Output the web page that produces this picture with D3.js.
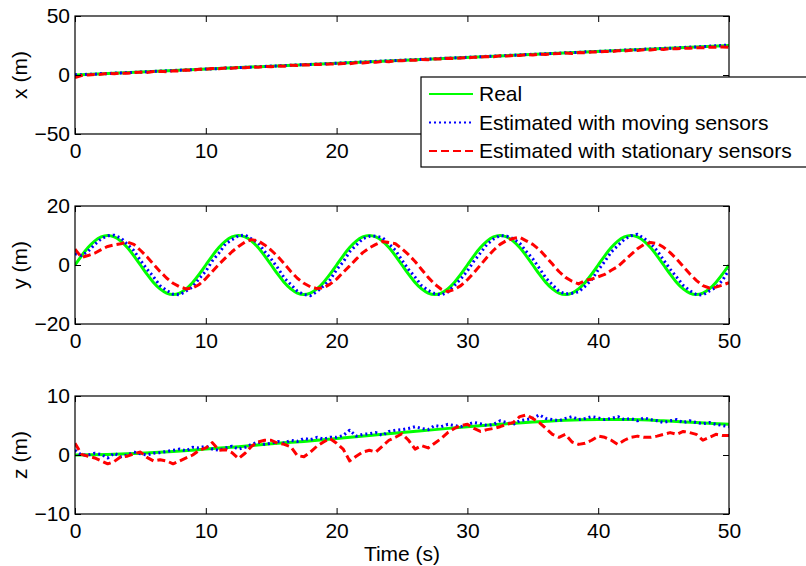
<!DOCTYPE html>
<html>
<head>
<meta charset="utf-8">
<script src="https://cdn.jsdelivr.net/npm/d3@7/dist/d3.min.js"></script>
<style>
    body { margin: 0; background: #fff; }
    svg { font-family: 'Liberation Sans', Arial, Helvetica, sans-serif; }
</style>
</head>
<body>
<svg id="chart" width="806" height="566"></svg>
<script>
// estimates are sampled every half second, t = 0 .. 50
const timeStep = 0.5;
const timeTicks = [0, 10, 20, 30, 40, 50];

const seriesNames = ['Real', 'Estimated with moving sensors', 'Estimated with stationary sensors'];

// x (m)
const realXTime = [0, 50];
const realX = [0, 25];
const movingX = [
    0.3, 0.2, 0.7, 0.6, 1.2, 1.1, 1.6, 1.8, 2.1, 2.2,
    2.6, 2.7, 3.1, 3.2, 3.6, 3.7, 4.1, 4.3, 4.4, 4.9,
    5.0, 5.3, 5.4, 5.9, 6.0, 6.2, 6.6, 6.7, 7.1, 7.2,
    7.6, 7.7, 8.1, 8.2, 8.6, 8.8, 9.0, 9.3, 9.4, 9.8,
    10.0, 10.3, 10.4, 10.9, 11.0, 11.2, 11.6, 11.8, 12.1, 12.3,
    12.5, 12.8, 13.0, 13.3, 13.6, 13.7, 14.1, 14.2, 14.6, 14.7,
    15.0, 15.3, 15.4, 15.9, 16.0, 16.2, 16.6, 16.8, 17.0, 17.3,
    17.6, 17.7, 18.1, 18.3, 18.4, 18.9, 19.0, 19.2, 19.6, 19.8,
    20.1, 20.2, 20.6, 20.7, 21.1, 21.3, 21.4, 21.9, 22.0, 22.3,
    22.6, 22.7, 23.1, 23.3, 23.6, 23.8, 24.1, 24.4, 24.7, 25.0,
    25.5
];
const stationaryX = [
    -2.2, -0.5, 0.0, 0.4, 0.6, 1.3, 1.0, 1.6, 1.4, 2.0,
    2.4, 2.2, 2.9, 3.1, 2.8, 3.5, 3.4, 4.2, 4.0, 4.8,
    4.9, 5.6, 5.3, 5.9, 5.7, 6.3, 6.2, 6.8, 6.6, 7.2,
    7.0, 7.6, 7.5, 8.3, 8.0, 8.6, 8.4, 9.2, 8.9, 9.4,
    9.3, 9.8, 9.6, 10.4, 10.2, 10.9, 10.7, 11.5, 11.3, 12.0,
    12.1, 12.6, 12.4, 13.2, 13.0, 13.6, 13.5, 14.2, 13.9, 14.5,
    14.6, 15.0, 15.2, 15.6, 15.5, 16.3, 16.0, 16.5, 16.6, 17.2,
    17.0, 17.7, 17.4, 18.1, 18.2, 18.6, 18.3, 19.0, 18.8, 19.5,
    19.4, 20.0, 19.8, 20.5, 20.4, 21.0, 20.8, 21.4, 21.2, 21.9,
    21.7, 22.4, 22.2, 22.8, 22.6, 23.2, 23.0, 23.6, 23.5, 23.8,
    23.4
];

// y (m)
const realY = [
    0, 3.1, 5.9, 8.1, 9.5, 10, 9.5, 8.1, 5.9, 3.1,
    0, -3.1, -5.9, -8.1, -9.5, -10, -9.5, -8.1, -5.9, -3.1,
    0, 3.1, 5.9, 8.1, 9.5, 10, 9.5, 8.1, 5.9, 3.1,
    0, -3.1, -5.9, -8.1, -9.5, -10, -9.5, -8.1, -5.9, -3.1,
    0, 3.1, 5.9, 8.1, 9.5, 10, 9.5, 8.1, 5.9, 3.1,
    0, -3.1, -5.9, -8.1, -9.5, -10, -9.5, -8.1, -5.9, -3.1,
    0, 3.1, 5.9, 8.1, 9.5, 10, 9.5, 8.1, 5.9, 3.1,
    0, -3.1, -5.9, -8.1, -9.5, -10, -9.5, -8.1, -5.9, -3.1,
    0, 3.1, 5.9, 8.1, 9.5, 10, 9.5, 8.1, 5.9, 3.1,
    0, -3.1, -5.9, -8.1, -9.5, -10, -9.5, -8.1, -5.9, -3.1,
    0
];
const movingY = [
    3.8, 3.2, 4.6, 6.9, 8.9, 9.9, 10.1, 9.2, 7.0, 4.9,
    1.6, -1.4, -4.0, -7.0, -8.6, -9.9, -10.1, -8.8, -7.4, -4.6,
    -2.1, 1.4, 4.0, 7.1, 8.6, 9.9, 10.2, 8.8, 7.5, 4.6,
    2.0, -1.0, -4.4, -6.6, -8.9, -10.0, -10.4, -9.0, -7.1, -5.0,
    -1.6, 1.0, 4.5, 6.7, 8.9, 9.7, 9.8, 9.3, 7.1, 5.0,
    1.6, -1.5, -4.1, -7.0, -8.6, -9.7, -10.2, -9.2, -7.0, -4.7,
    -2.0, 1.3, 4.1, 7.0, 8.8, 10.0, 9.8, 8.9, 7.4, 4.6,
    2.1, -1.1, -4.4, -6.7, -8.9, -9.8, -9.6, -9.1, -7.2, -5.0,
    -1.7, 1.2, 4.4, 6.6, 8.7, 9.9, 10.4, 9.1, 7.3, 4.9,
    1.7, -1.4, -4.1, -6.9, -8.7, -10.0, -10.2, -8.8, -7.6, -5.2,
    -1.6
];
const stationaryY = [
    5.4, 2.6, 3.2, 4.0, 5.2, 6.3, 6.8, 7.2, 7.8, 7.0,
    5.0, 2.8, 0.3, -2.2, -4.4, -6.2, -7.4, -8.1, -7.8, -6.6,
    -4.6, -2.2, 0.2, 2.4, 4.5, 6.3, 7.8, 8.6, 8.2, 6.8,
    5.0, 2.9, 0.4, -2.2, -4.5, -6.2, -7.4, -8.0, -7.7, -6.5,
    -4.8, -2.5, -0.3, 2.0, 4.2, 5.8, 7.0, 8.0, 7.6, 7.2,
    5.5, 3.5, 1.2, -1.5, -4.2, -6.5, -8.2, -9.0, -8.3, -7.0,
    -5.0, -2.6, 0.0, 2.6, 5.0, 7.0, 8.3, 9.0, 9.4, 8.2,
    7.0, 5.2, 2.8, 0.3, -2.2, -4.2, -5.5, -6.4, -5.2, -4.8,
    -4.0, -3.2, -1.8, -0.5, 1.5, 3.5, 5.5, 7.0, 7.6, 7.3,
    6.0, 4.2, 2.0, -0.5, -3.0, -5.2, -7.0, -7.8, -7.5, -6.8,
    -6.0
];

// z (m)
const realZTime = [0, 2.5, 5, 7.5, 10, 12.5, 15, 17.5, 20, 22.5, 25, 27.5, 30, 32.5, 35, 37.5, 40, 42.5, 45, 47.5, 50];
const realZ = [0, 0.1, 0.3, 0.6, 1.0, 1.4, 1.9, 2.3, 2.8, 3.3, 3.8, 4.3, 4.8, 5.2, 5.6, 5.9, 6.0, 6.0, 5.8, 5.5, 5.2];
const movingZ = [
    0.8, 0.0, 0.0, 0.3, 0.1, -0.5, 0.3, -0.3, 0.0, 0.5,
    0.2, 0.0, 0.3, 0.4, 0.6, 0.8, 1.0, 0.7, 1.3, 1.2,
    1.5, 1.0, 0.8, 1.2, 1.5, 1.0, 1.3, 1.8, 2.2, 1.8,
    2.0, 2.3, 2.0, 2.5, 2.3, 2.8, 2.6, 3.0, 2.7, 3.0,
    3.0, 3.3, 4.2, 3.2, 3.5, 3.6, 3.8, 3.3, 4.0, 4.2,
    4.3, 4.5, 4.8, 4.5, 4.3, 5.0, 4.8, 5.2, 5.0, 4.8,
    5.2, 5.5, 5.3, 5.0, 5.2, 5.8, 5.5, 5.2, 5.8, 6.0,
    6.2, 6.8, 6.2, 6.0, 5.8, 6.2, 6.5, 6.0, 6.2, 6.5,
    6.3, 6.0, 6.2, 6.5, 6.0, 6.2, 5.8, 6.3, 6.0, 5.8,
    5.5, 5.8, 6.0, 5.5, 5.8, 5.5, 5.3, 5.5, 5.2, 5.0,
    4.8
];
const stationaryZ = [
    2.0, 0.1, -0.2, -0.5, -1.0, -1.5, -1.1, -0.3, -0.2, 0.2,
    0.5, -0.4, -1.0, -0.8, -1.0, -1.5, -1.0, -0.5, 0.0, 0.8,
    1.2, 2.1, 0.8, 0.9, 0.4, -0.6, 0.3, 1.5, 2.2, 2.5,
    2.5, 2.0, 1.8, 1.4, -0.1, -0.3, 0.5, 1.5, 2.2, 2.8,
    2.0, 1.0, -1.0, -0.2, 0.5, 0.8, 0.5, 1.5, 2.5, 3.0,
    3.6, 2.5, 1.0, 1.6, 1.2, 2.0, 2.8, 3.8, 4.5, 5.0,
    5.2, 4.5, 4.0, 4.3, 4.5, 4.8, 5.2, 5.5, 6.5, 6.8,
    6.2, 5.5, 4.5, 3.5, 3.0, 3.5, 2.2, 1.8, 2.0, 2.5,
    3.2, 3.0, 2.5, 1.8, 2.5, 3.0, 3.2, 3.0, 3.0, 3.2,
    3.5, 3.8, 3.5, 4.0, 3.8, 3.5, 2.5, 3.0, 3.5, 3.3,
    3.3
];

const panelLabels = ['x (m)', 'y (m)', 'z (m)'];
const panelTicks = [[-50, 0, 50], [-20, 0, 20], [-10, 0, 10]];

const lineStyles = [
    { color: '#00ff00', width: 3, dash: null },
    { color: '#0000ff', width: 3, dash: '2,3' },
    { color: '#ff0000', width: 3, dash: '8,4' },
];

const plotLeft = 75;
const plotRight = 729;
const plotHeight = 118;
const plotTops = [16, 206, 396];
const tickLen = 6;
const fontSize = 21;

const legendBox = { x: 421, y: 77, width: 420, height: 90 };

const svg = d3.select('#chart');

const xScale = d3.scaleLinear()
    .domain([0, 50])
    .range([plotLeft, plotRight]);

function sampled(values) {
    return values.map((v, i) => ({ t: i * timeStep, v }));
}

function paired(times, values) {
    return times.map((t, i) => ({ t, v: values[i] }));
}

const panelSeries = [
    [paired(realXTime, realX), sampled(movingX), sampled(stationaryX)],
    [sampled(realY), sampled(movingY), sampled(stationaryY)],
    [paired(realZTime, realZ), sampled(movingZ), sampled(stationaryZ)],
];

function styleAxis(g) {
    g.attr('font-size', fontSize)
        .attr('font-family', null);
    g.select('.domain').remove();
    g.selectAll('.tick line').attr('stroke', '#000');
    g.selectAll('.tick text').attr('fill', '#000');
}

function renderPanel(index) {
    const top = plotTops[index];
    const bottom = top + plotHeight;
    const ticks = panelTicks[index];

    const yScale = d3.scaleLinear()
        .domain([ticks[0], ticks[ticks.length - 1]])
        .range([bottom, top]);

    const g = svg.append('g').attr('class', `panel panel-${index}`);

    const clipId = `clip-${index}`;
    g.append('clipPath').attr('id', clipId)
        .append('rect')
        .attr('x', plotLeft)
        .attr('y', top)
        .attr('width', plotRight - plotLeft)
        .attr('height', plotHeight);

    const line = d3.line()
        .x(d => xScale(d.t))
        .y(d => yScale(d.v));

    const lines = g.append('g').attr('clip-path', `url(#${clipId})`);
    panelSeries[index].forEach((data, i) => {
        const style = lineStyles[i];
        lines.append('path')
            .datum(data)
            .attr('fill', 'none')
            .attr('stroke', style.color)
            .attr('stroke-width', style.width)
            .attr('stroke-dasharray', style.dash)
            .attr('stroke-linejoin', 'round')
            .attr('d', i === 0 ? line.curve(d3.curveMonotoneX) : line.curve(d3.curveLinear));
    });

    // MATLAB style: ticks point inwards on all four sides
    const gBottom = g.append('g')
        .attr('transform', `translate(0,${bottom})`)
        .call(d3.axisBottom(xScale).tickValues(timeTicks).tickSize(-tickLen).tickPadding(9))
        .call(styleAxis);
    // labels that sit under the legend box are not visible
    if (bottom > legendBox.y && top < legendBox.y + legendBox.height) {
        gBottom.selectAll('.tick text')
            .filter(d => xScale(d) > legendBox.x)
            .remove();
    }
    g.append('g')
        .attr('transform', `translate(0,${top})`)
        .call(d3.axisTop(xScale).tickValues(timeTicks).tickSize(-tickLen).tickFormat(''))
        .call(styleAxis);
    g.append('g')
        .attr('transform', `translate(${plotLeft},0)`)
        .call(d3.axisLeft(yScale).tickValues(ticks).tickSize(-tickLen).tickPadding(5))
        .call(styleAxis);
    g.append('g')
        .attr('transform', `translate(${plotRight},0)`)
        .call(d3.axisRight(yScale).tickValues(ticks).tickSize(-tickLen).tickFormat(''))
        .call(styleAxis);

    g.append('rect')
        .attr('x', plotLeft)
        .attr('y', top)
        .attr('width', plotRight - plotLeft)
        .attr('height', plotHeight)
        .attr('fill', 'none')
        .attr('stroke', '#000')
        .attr('stroke-width', 1.2);

    g.append('text')
        .attr('transform', `translate(27,${(top + bottom) / 2}) rotate(-90)`)
        .attr('text-anchor', 'middle')
        .attr('font-size', fontSize)
        .text(panelLabels[index]);
}

panelLabels.forEach((d, i) => renderPanel(i));

svg.append('text')
    .attr('x', (plotLeft + plotRight) / 2)
    .attr('y', 561)
    .attr('text-anchor', 'middle')
    .attr('font-size', fontSize)
    .text('Time (s)');

// legend sits over the lower right corner of the top panel
const legend = svg.append('g').attr('class', 'legend');
legend.append('rect')
    .attr('x', legendBox.x)
    .attr('y', legendBox.y)
    .attr('width', legendBox.width)
    .attr('height', legendBox.height)
    .attr('fill', '#fff')
    .attr('stroke', '#000')
    .attr('stroke-width', 1.2);

const entry = legend.selectAll('.entry').data(seriesNames).enter().append('g')
    .attr('class', 'entry')
    .attr('transform', (d, i) => `translate(0,${94 + i * 28.5})`);

entry.append('line')
    .attr('x1', 429)
    .attr('x2', 473)
    .attr('stroke', (d, i) => lineStyles[i].color)
    .attr('stroke-width', 2)
    .attr('stroke-dasharray', (d, i) => lineStyles[i].dash);

entry.append('text')
    .attr('x', 479)
    .attr('dy', '0.35em')
    .attr('font-size', fontSize)
    .text(d => d);
</script>
</body>
</html>
